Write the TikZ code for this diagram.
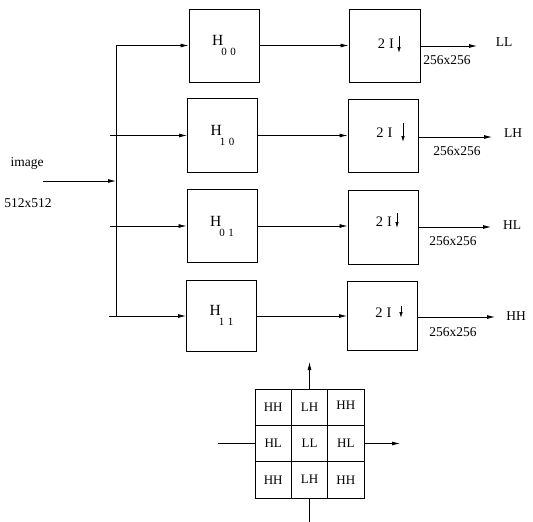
\documentclass[tikz,border=0pt]{standalone}
\usepackage{fontspec}
\setmainfont{Liberation Serif}
\usetikzlibrary{arrows.meta}
\newcommand{\hsub}[1]{H\kern-2pt\raisebox{-10pt}{\fontsize{11}{12}\selectfont #1}}
\begin{document}
\begin{tikzpicture}[x=1pt,y=-1pt,
  box/.style={draw, line width=0.9pt, minimum width=70pt, minimum height=73pt, inner sep=0pt},
  hlab/.style={font=\fontsize{15.5}{17}\selectfont},
  lbl/.style={font=\fontsize{13.5}{15}\selectfont, inner sep=0pt},
  dlbl/.style={font=\fontsize{14.5}{16}\selectfont, inner sep=0pt},
  glbl/.style={draw, line width=0.9pt, minimum width=36.3pt, minimum height=36.3pt, inner sep=0pt, font=\fontsize{13}{15}\selectfont},
  arr/.style={-{Latex[length=8pt,width=4pt]}, line width=0.8pt},
  sarr/.style={-{Latex[length=6pt,width=3.5pt]}, line width=0.8pt},
  ln/.style={line width=0.8pt}]
\useasboundingbox (0,0) rectangle (533,522);

% filter boxes
\node[box, hlab] (H00) at (224,45.5) {\hsub{0\,\,0}};
\node[box, hlab, minimum height=74pt] (H10) at (222.5,135.5) {\hsub{1\,\,0}};
\node[box, hlab] (H01) at (222,226) {\hsub{0\,\,1}};
\node[box, hlab, minimum height=71pt] (H11) at (221.5,315.5) {\hsub{1\,\,1}};

% downsampling boxes
\node[box, minimum width=71pt] (D1) at (384.5,45.5) {};
\node[box] (D2) at (383,136) {};
\node[box, minimum height=74pt] (D3) at (383,227) {};
\node[box, minimum height=69pt] (D4) at (382.5,316) {};

\node[dlbl] (t1) at (386,44) {2\hspace{4pt}I};
\draw[sarr] (399,36) -- (399,53);
\node[dlbl] (t2) at (384.5,133) {2\hspace{4pt}I};
\draw[sarr] (403,123) -- (403,142);
\node[dlbl] (t3) at (384,222) {2\hspace{4pt}I};
\draw[sarr] (397,213) -- (397,228);
\node[dlbl] (t4) at (383.5,313) {2\hspace{4pt}I};
\draw[sarr] (401,306) -- (401,318);

% input
\node[lbl] (img) at (27,163) {image};
\node[lbl] (isz) at (28,203) {512x512};
\coordinate (in) at (43,181);
\coordinate (bin) at (116,181);
\draw[arr] (in) -- (bin);

% bus
\coordinate (b1) at (116,45.5);
\coordinate (b4) at (116,316);
\draw[ln] (b1) -- (b4);
\coordinate (s2) at (110,135.5);
\coordinate (s3) at (110,226);
\coordinate (s4) at (109,316);
\draw[arr] (b1) -- (H00.west);
\draw[arr] (s2) -- (H10.west);
\draw[arr] (s3) -- (H01.west);
\draw[arr] (s4) -- (H11.west |- s4);

% H -> D
\draw[arr] (H00.east) -- (D1.west);
\draw[arr] (H10.east) -- (D2.west |- H10.east);
\draw[arr] (H01.east) -- (D3.west |- H01.east);
\draw[arr] (H11.east |- s4) -- (D4.west |- s4);

% outputs
\coordinate (o1) at (477,46);
\coordinate (o2) at (492,137);
\coordinate (o3) at (491,227);
\coordinate (o4) at (495,317);
\draw[arr] (D1.east |- o1) -- (o1);
\draw[arr] (D2.east |- o2) -- (o2);
\draw[arr] (D3.east |- o3) -- (o3);
\draw[arr] (D4.east |- o4) -- (o4);
\node[lbl] (LL) at (504,42) {LL};
\node[lbl] (LH) at (513,133) {LH};
\node[lbl] (HL) at (512,225) {HL};
\node[lbl] (HH) at (516,316) {HH};
\node[lbl] (z1) at (447,60) {256x256};
\node[lbl] (z2) at (457,151) {256x256};
\node[lbl] (z3) at (453,241) {256x256};
\node[lbl] (z4) at (453,332) {256x256};

% frequency grid
\node[glbl] (g11) at (273.2,407.2) {HH};
\node[glbl] (g12) at (309.5,407.2) {LH};
\node[glbl] (g13) at (345.8,407.2) {\raisebox{3pt}{HH}};
\node[glbl] (g21) at (273.2,443.5) {HL};
\node[glbl] (g22) at (309.5,443.5) {\raisebox{-3pt}{LL}};
\node[glbl] (g23) at (345.8,443.5) {HL};
\node[glbl] (g31) at (273.2,479.8) {HH};
\node[glbl] (g32) at (309.5,479.8) {\raisebox{2pt}{LH}};
\node[glbl] (g33) at (345.8,479.8) {HH};

\coordinate (up) at (309.5,362);
\coordinate (dn) at (309.5,522);
\coordinate (lf) at (218,443.5);
\coordinate (rt) at (400,443.5);
\draw[arr] (g12.north) -- (up);
\draw[ln] (g32.south) -- (dn);
\draw[ln] (lf) -- (g21.west);
\draw[arr] (g23.east) -- (rt);
\end{tikzpicture}
\end{document}
